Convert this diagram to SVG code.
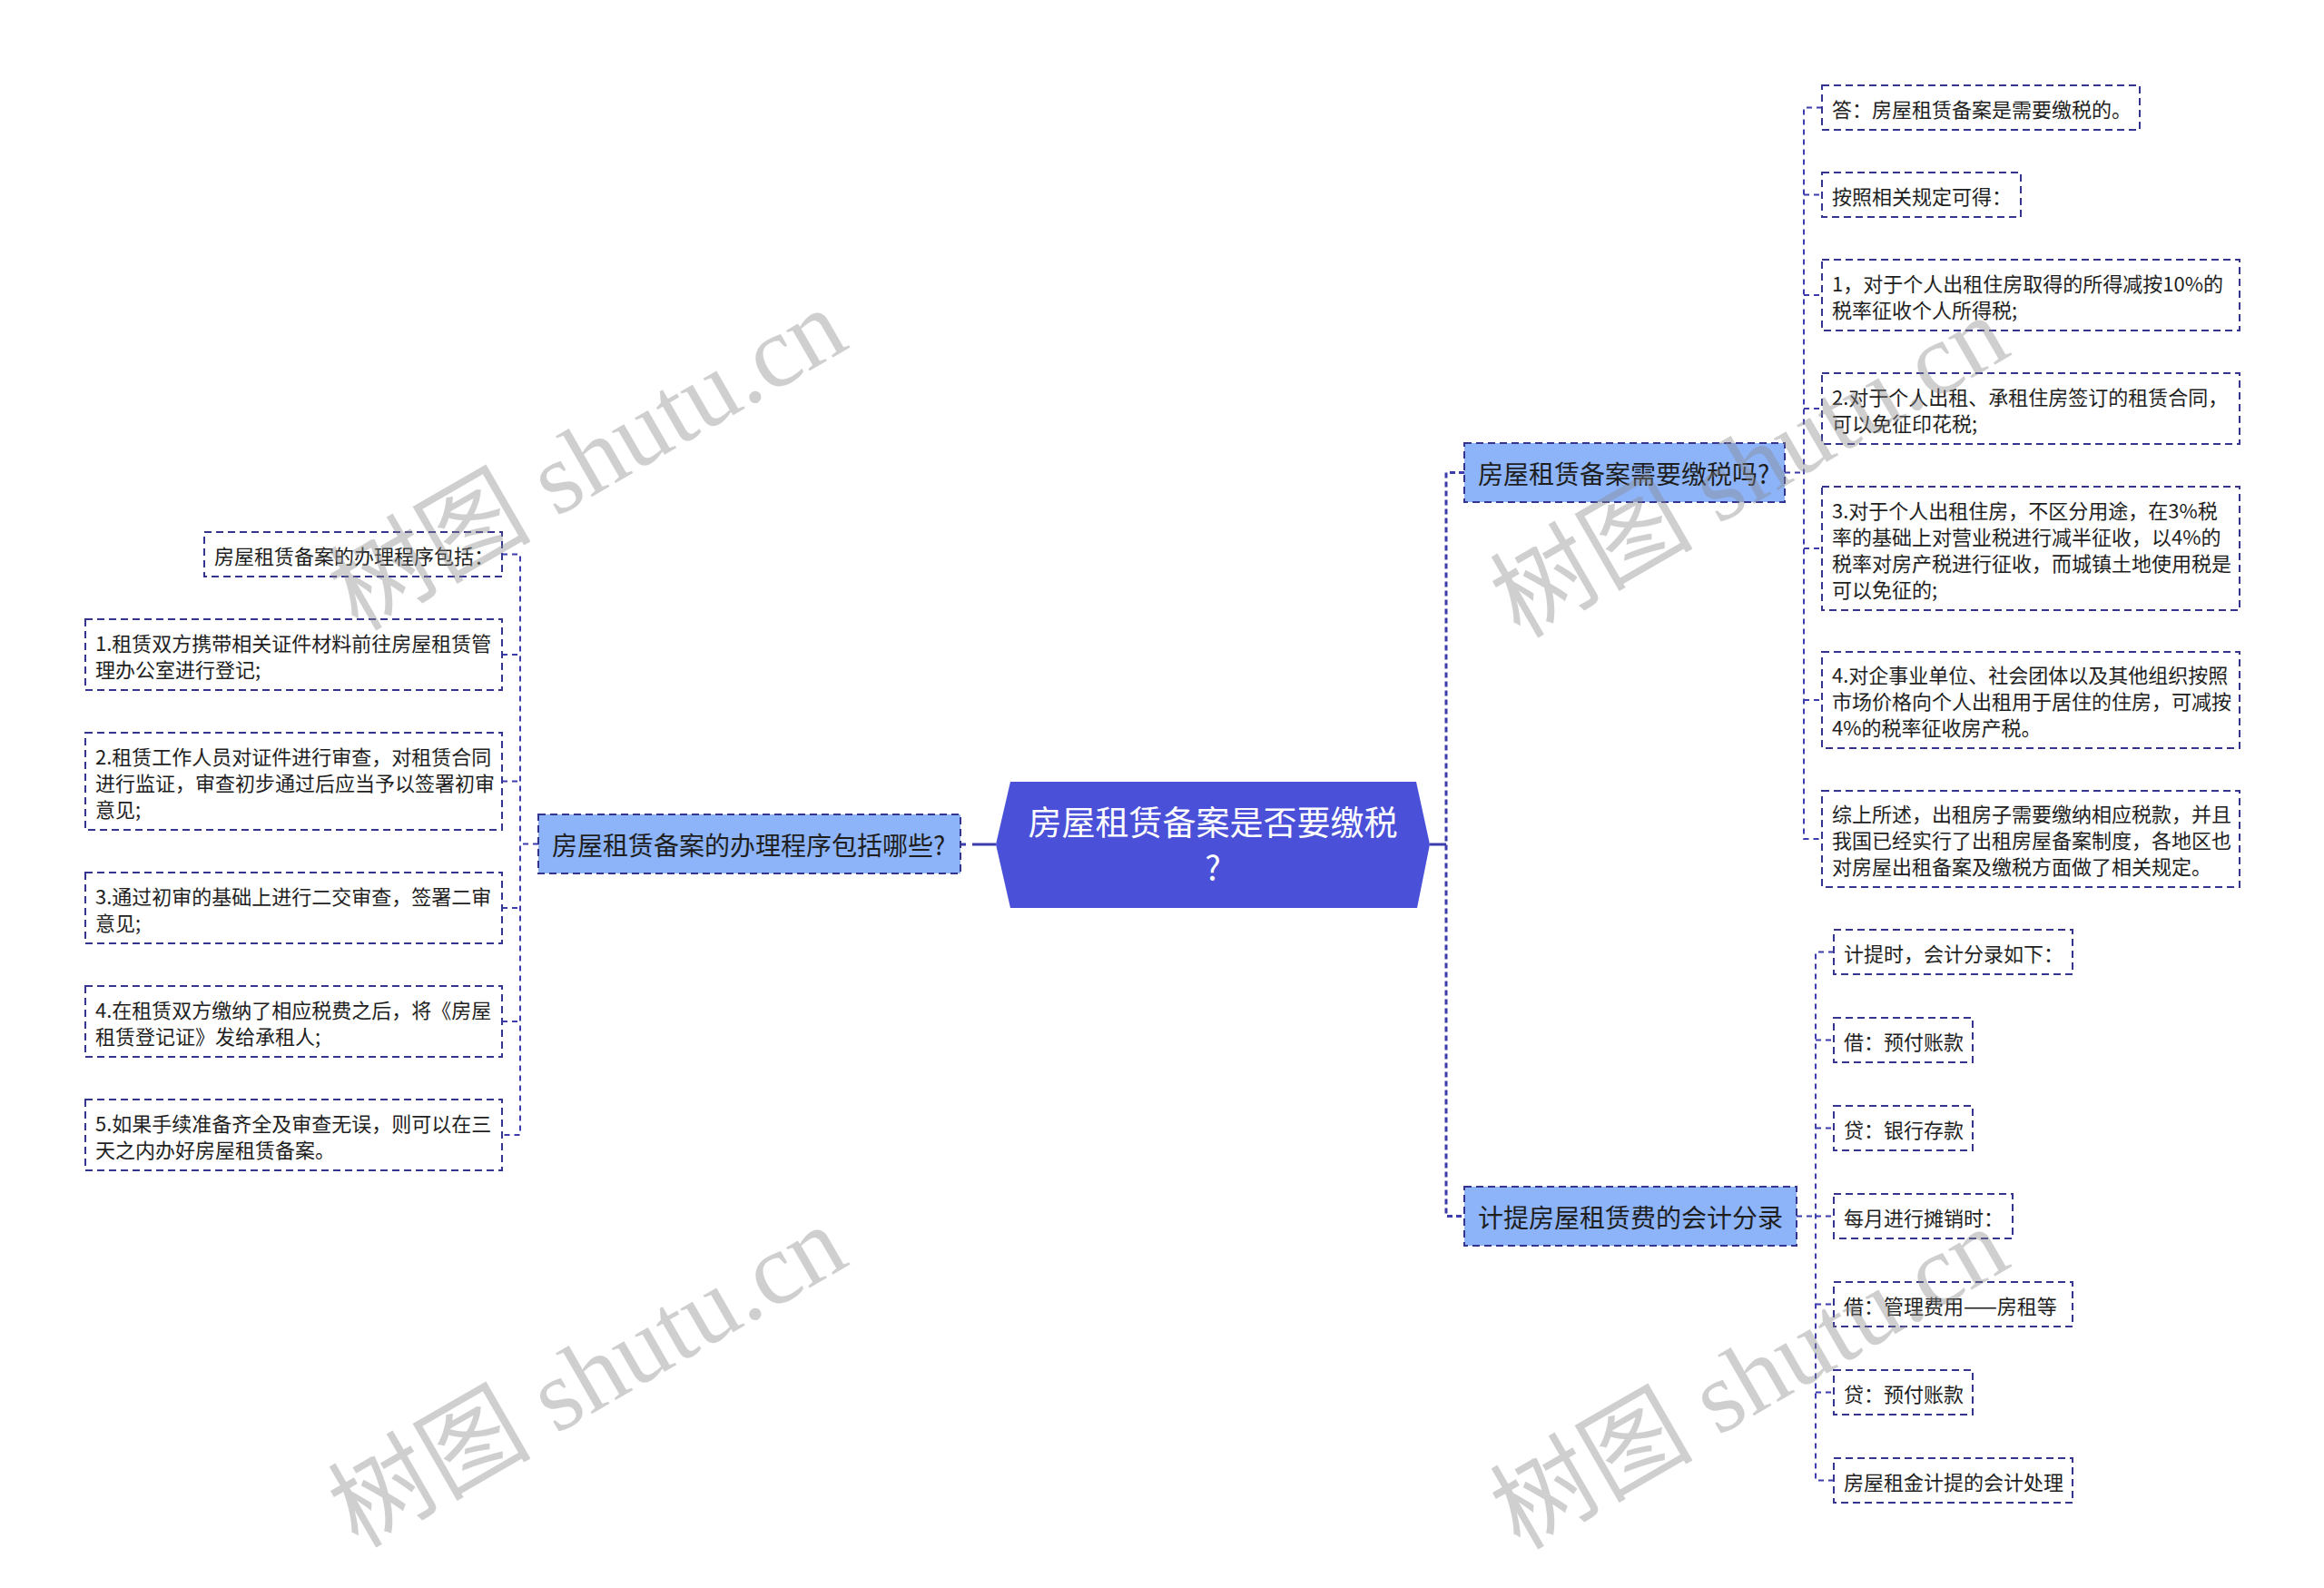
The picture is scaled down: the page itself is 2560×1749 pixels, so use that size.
<svg xmlns="http://www.w3.org/2000/svg" width="2560" height="1749" viewBox="0 0 2560 1749">
<style>
.bg{fill:#ffffff}
.leaf{fill:#ffffff;stroke:#35358f;stroke-width:2;stroke-dasharray:8 5}
.branch{fill:#8db4f9;stroke:#35358f;stroke-width:2;stroke-dasharray:8 5}
.center{fill:#4a50d8}
.lt{font-family:"Noto Sans CJK SC","Noto Sans",sans-serif;font-size:22px;fill:#1e1e1e;dominant-baseline:central}
.bt{font-family:"Noto Sans CJK SC","Noto Sans",sans-serif;font-size:28px;fill:#1e1e1e;dominant-baseline:central}
.ct{font-family:"Noto Sans CJK SC","Noto Sans",sans-serif;font-size:37px;fill:#ffffff;dominant-baseline:central;text-anchor:middle}
.c1{fill:none;stroke:#3c3cae;stroke-width:2;stroke-dasharray:6 5}
.c2{fill:none;stroke:#3c3cae;stroke-width:3;stroke-dasharray:6 4}
.wm{font-family:"Liberation Serif","Noto Sans CJK SC",serif;font-size:112px;fill:#8a8a8a;opacity:0.4;text-anchor:middle;dominant-baseline:central}
</style>
<rect class="bg" x="0" y="0" width="2560" height="1749"/>

<g id="connectors">
  <!-- center to left branch -->
  <path d="M1058 930 H1097" fill="none" stroke="#3c3cae" stroke-width="3" stroke-dasharray="6 7 40"/>
  <!-- center to right -->
  <path d="M1575 930 H1593" fill="none" stroke="#3c3cae" stroke-width="3"/>
  <path class="c2" d="M1613 520.5 H1593 V1339.5 H1613"/>
  <!-- left branch to leaves -->
  <path class="c1" d="M593 929.5 H573"/>
  <path class="c1" d="M553 610.5 H573 V1250 H553"/>
  <path class="c1" d="M553 721 H573"/>
  <path class="c1" d="M553 860.5 H573"/>
  <path class="c1" d="M553 1000 H573"/>
  <path class="c1" d="M553 1125 H573"/>
  <!-- right top branch to leaves -->
  <path class="c1" d="M1966 520.5 H1987"/>
  <path class="c1" d="M2007 118.5 H1987 V924 H2007"/>
  <path class="c1" d="M1987 214.5 H2007"/>
  <path class="c1" d="M1987 325 H2007"/>
  <path class="c1" d="M1987 450 H2007"/>
  <path class="c1" d="M1987 604 H2007"/>
  <path class="c1" d="M1987 771 H2007"/>
  <!-- right bottom branch to leaves -->
  <path class="c1" d="M1979 1339.5 H2000"/>
  <path class="c1" d="M2020 1048.5 H2000 V1630.5 H2020"/>
  <path class="c1" d="M2000 1145.5 H2020"/>
  <path class="c1" d="M2000 1242.5 H2020"/>
  <path class="c1" d="M2000 1339.5 H2020"/>
  <path class="c1" d="M2000 1436.5 H2020"/>
  <path class="c1" d="M2000 1533.5 H2020"/>
</g>

<g id="center">
  <polygon class="center" points="1113,861 1560,861 1575,930 1561,1000 1113,1000 1097,930"/>
  <text class="ct" x="1336" y="904">房屋租赁备案是否要缴税</text>
  <text class="ct" x="1336" y="954">?</text>
</g>

<g id="branch-left">
  <rect class="branch" x="593" y="897" width="465" height="65"/>
  <text class="bt" x="608" y="929.5">房屋租赁备案的办理程序包括哪些?</text>
</g>
<g id="branch-right-top">
  <rect class="branch" x="1613" y="488" width="353" height="65"/>
  <text class="bt" x="1628" y="520.5">房屋租赁备案需要缴税吗?</text>
</g>
<g id="branch-right-bottom">
  <rect class="branch" x="1613" y="1307" width="366" height="65"/>
  <text class="bt" x="1628" y="1339.5">计提房屋租赁费的会计分录</text>
</g>

<g id="L0"><rect class="leaf" x="225" y="586" width="328" height="49"/>
  <text class="lt" x="236" y="610.5">房屋租赁备案的办理程序包括：</text></g>
<g id="L1"><rect class="leaf" x="94" y="682" width="459" height="78"/>
  <text class="lt" x="105" y="706.5">1.租赁双方携带相关证件材料前往房屋租赁管</text>
  <text class="lt" x="105" y="735.5">理办公室进行登记;</text></g>
<g id="L2"><rect class="leaf" x="94" y="807" width="459" height="107"/>
  <text class="lt" x="105" y="831.5">2.租赁工作人员对证件进行审查，对租赁合同</text>
  <text class="lt" x="105" y="860.5">进行监证，审查初步通过后应当予以签署初审</text>
  <text class="lt" x="105" y="889.5">意见;</text></g>
<g id="L3"><rect class="leaf" x="94" y="961" width="459" height="78"/>
  <text class="lt" x="105" y="985.5">3.通过初审的基础上进行二交审查，签署二审</text>
  <text class="lt" x="105" y="1014.5">意见;</text></g>
<g id="L4"><rect class="leaf" x="94" y="1086" width="459" height="78"/>
  <text class="lt" x="105" y="1110.5">4.在租赁双方缴纳了相应税费之后，将《房屋</text>
  <text class="lt" x="105" y="1139.5">租赁登记证》发给承租人;</text></g>
<g id="L5"><rect class="leaf" x="94" y="1211" width="459" height="78"/>
  <text class="lt" x="105" y="1235.5">5.如果手续准备齐全及审查无误，则可以在三</text>
  <text class="lt" x="105" y="1264.5">天之内办好房屋租赁备案。</text></g>

<g id="R0"><rect class="leaf" x="2007" y="94" width="350" height="49"/>
  <text class="lt" x="2018" y="118.5">答：房屋租赁备案是需要缴税的。</text></g>
<g id="R1"><rect class="leaf" x="2007" y="190" width="219" height="49"/>
  <text class="lt" x="2018" y="214.5">按照相关规定可得：</text></g>
<g id="R2"><rect class="leaf" x="2007" y="286" width="460" height="78"/>
  <text class="lt" x="2018" y="310.5">1，对于个人出租住房取得的所得减按10%的</text>
  <text class="lt" x="2018" y="339.5">税率征收个人所得税;</text></g>
<g id="R3"><rect class="leaf" x="2007" y="411" width="460" height="78"/>
  <text class="lt" x="2018" y="435.5">2.对于个人出租、承租住房签订的租赁合同，</text>
  <text class="lt" x="2018" y="464.5">可以免征印花税;</text></g>
<g id="R4"><rect class="leaf" x="2007" y="536" width="460" height="136"/>
  <text class="lt" x="2018" y="560.5">3.对于个人出租住房，不区分用途，在3%税</text>
  <text class="lt" x="2018" y="589.5">率的基础上对营业税进行减半征收，以4%的</text>
  <text class="lt" x="2018" y="618.5">税率对房产税进行征收，而城镇土地使用税是</text>
  <text class="lt" x="2018" y="647.5">可以免征的;</text></g>
<g id="R5"><rect class="leaf" x="2007" y="718" width="460" height="106"/>
  <text class="lt" x="2018" y="742">4.对企事业单位、社会团体以及其他组织按照</text>
  <text class="lt" x="2018" y="771">市场价格向个人出租用于居住的住房，可减按</text>
  <text class="lt" x="2018" y="800">4%的税率征收房产税。</text></g>
<g id="R6"><rect class="leaf" x="2007" y="871" width="460" height="106"/>
  <text class="lt" x="2018" y="895">综上所述，出租房子需要缴纳相应税款，并且</text>
  <text class="lt" x="2018" y="924">我国已经实行了出租房屋备案制度，各地区也</text>
  <text class="lt" x="2018" y="953">对房屋出租备案及缴税方面做了相关规定。</text></g>

<g id="B0"><rect class="leaf" x="2020" y="1024" width="263" height="49"/>
  <text class="lt" x="2031" y="1048.5">计提时，会计分录如下：</text></g>
<g id="B1"><rect class="leaf" x="2020" y="1121" width="153" height="49"/>
  <text class="lt" x="2031" y="1145.5">借：预付账款</text></g>
<g id="B2"><rect class="leaf" x="2020" y="1218" width="153" height="49"/>
  <text class="lt" x="2031" y="1242.5">贷：银行存款</text></g>
<g id="B3"><rect class="leaf" x="2020" y="1315" width="197" height="49"/>
  <text class="lt" x="2031" y="1339.5">每月进行摊销时：</text></g>
<g id="B4"><rect class="leaf" x="2020" y="1412" width="263" height="49"/>
  <text class="lt" x="2031" y="1436.5">借：管理费用——房租等</text></g>
<g id="B5"><rect class="leaf" x="2020" y="1509" width="153" height="49"/>
  <text class="lt" x="2031" y="1533.5">贷：预付账款</text></g>
<g id="B6"><rect class="leaf" x="2020" y="1606" width="263" height="49"/>
  <text class="lt" x="2031" y="1630.5">房屋租金计提的会计处理</text></g>

<g id="watermarks">
  <text class="wm" transform="translate(647 506) rotate(-30)">树图 shutu.cn</text>
  <text class="wm" transform="translate(647 1516) rotate(-30)">树图 shutu.cn</text>
  <text class="wm" transform="translate(1927 514) rotate(-30)">树图 shutu.cn</text>
  <text class="wm" transform="translate(1927 1518) rotate(-30)">树图 shutu.cn</text>
</g>
</svg>
